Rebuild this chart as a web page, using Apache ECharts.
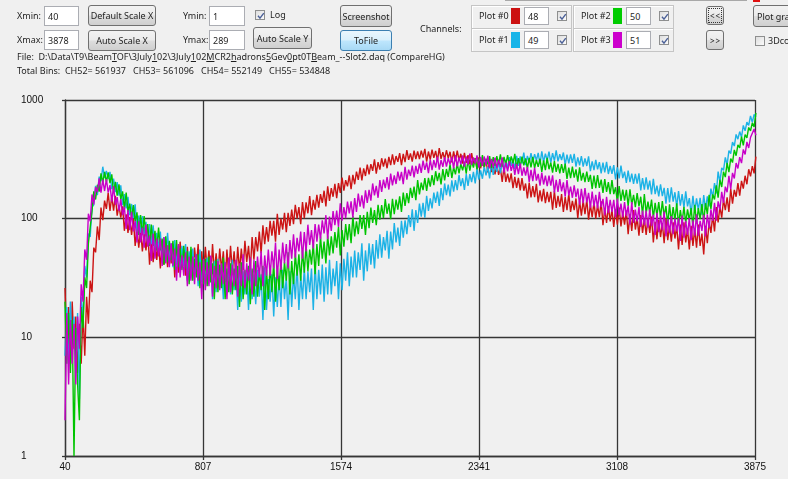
<!DOCTYPE html>
<html><head><meta charset="utf-8">
<script src="https://cdn.jsdelivr.net/npm/echarts@6.0.0/dist/echarts.min.js"></script>
<style>
html,body{margin:0;padding:0;}
body{width:788px;height:479px;overflow:hidden;background:#f0f0f0;position:relative;font-family:'Noto Sans','Open Sans',sans-serif;font-size:9px;color:#1e1e1e;}
#chart{position:absolute;left:0;top:0;width:788px;height:479px;}
.t{position:absolute;white-space:nowrap;line-height:10px;height:10px;}
.tb{position:absolute;box-sizing:border-box;background:#fff;border:1px solid #abadb3;padding-left:3px;white-space:nowrap;display:flex;align-items:center;}
.btn{position:absolute;box-sizing:border-box;border:1px solid #707070;border-radius:3px;background:linear-gradient(#f2f2f2 0%,#ebebeb 48%,#dddddd 52%,#cfcfcf 100%);display:flex;align-items:center;justify-content:center;white-space:nowrap;}
.btn.blue{border-color:#3c7fb1;background:linear-gradient(#eaf6fd 0%,#d9f0fc 48%,#bee6fd 52%,#a7d9f5 100%);}
.btn.arr{font-size:8px;letter-spacing:1px;padding-left:1px;}
.cb{position:absolute;width:10px;height:10px;box-sizing:border-box;border:1px solid #8e8f8f;background:linear-gradient(135deg,#dedede,#fbfbfb);}
.cb svg{position:absolute;left:0;top:0;}
.grp{position:absolute;box-sizing:border-box;border:1px solid #c5c5c5;box-shadow:inset 1px 1px 0 #ffffff;}
.sw{position:absolute;width:9px;height:16px;}
.focus{position:absolute;left:1px;top:1px;right:1px;bottom:1px;border:1px dotted #333;border-radius:1px;}
u{text-decoration:underline;}
</style>
</head><body>
<div id="chart"></div>

<div class="t" style="left:17px;top:11px">Xmin:</div>
<div class="tb" style="left:44px;top:6px;width:35px;height:20px">40</div>
<div class="btn" style="left:88px;top:5px;width:68px;height:21px">Default Scale X</div>
<div class="t" style="left:183px;top:11px">Ymin:</div>
<div class="tb" style="left:209px;top:6px;width:36px;height:20px">1</div>
<div class="cb" style="left:255px;top:10px"><svg width="10" height="10" viewBox="0 0 10 10"><path d="M2 4.8 L4 7.2 L7.8 2.2" stroke="#4a5f97" stroke-width="1.4" fill="none"/></svg></div>
<div class="t" style="left:270px;top:10px">Log</div>
<div class="btn" style="left:340px;top:5px;width:52px;height:22px">Screenshot</div>

<div class="t" style="left:17px;top:35px">Xmax:</div>
<div class="tb" style="left:44px;top:30px;width:35px;height:20px">3878</div>
<div class="btn" style="left:88px;top:30px;width:68px;height:21px">Auto Scale X</div>
<div class="t" style="left:183px;top:35px">Ymax:</div>
<div class="tb" style="left:209px;top:30px;width:36px;height:20px">289</div>
<div class="btn" style="left:253px;top:27px;width:59px;height:22px">Auto Scale Y</div>
<div class="btn blue" style="left:340px;top:30px;width:52px;height:21px">ToFile</div>

<div class="t" style="left:17px;top:52px">File:&nbsp; D:\Data\T9\Beam<u>T</u>OF\3July<u>1</u>02\3July<u>1</u>02<u>M</u>CR2<u>h</u>adrons<u>5</u>Gev<u>0</u>pt0T<u>B</u>eam_--Slot2.daq (CompareHG)</div>
<div class="t" style="left:17px;top:66px">Total Bins:&nbsp; CH52= 561937 &nbsp; CH53= 561096 &nbsp; CH54= 552149 &nbsp; CH55= 534848</div>

<div class="t" style="left:420px;top:24px">Channels:</div>
<div class="grp" style="left:471px;top:5px;width:101px;height:24px"></div>
<div class="grp" style="left:471px;top:28px;width:101px;height:24px"></div>
<div class="grp" style="left:573px;top:5px;width:101px;height:24px"></div>
<div class="grp" style="left:573px;top:28px;width:101px;height:24px"></div>
<div class="t" style="left:479px;top:11px">Plot #0</div>
<div class="sw" style="left:511px;top:8px;background:#cc1111"></div>
<div class="tb" style="left:524px;top:7px;width:25px;height:18px">48</div>
<div class="cb" style="left:557px;top:11px"><svg width="10" height="10" viewBox="0 0 10 10"><path d="M2 4.8 L4 7.2 L7.8 2.2" stroke="#4a5f97" stroke-width="1.4" fill="none"/></svg></div>
<div class="t" style="left:479px;top:35px">Plot #1</div>
<div class="sw" style="left:511px;top:32px;background:#18b4e8"></div>
<div class="tb" style="left:524px;top:31px;width:25px;height:18px">49</div>
<div class="cb" style="left:557px;top:35px"><svg width="10" height="10" viewBox="0 0 10 10"><path d="M2 4.8 L4 7.2 L7.8 2.2" stroke="#4a5f97" stroke-width="1.4" fill="none"/></svg></div>
<div class="t" style="left:581px;top:11px">Plot #2</div>
<div class="sw" style="left:613px;top:8px;background:#00cc00"></div>
<div class="tb" style="left:626px;top:7px;width:25px;height:18px">50</div>
<div class="cb" style="left:659px;top:11px"><svg width="10" height="10" viewBox="0 0 10 10"><path d="M2 4.8 L4 7.2 L7.8 2.2" stroke="#4a5f97" stroke-width="1.4" fill="none"/></svg></div>
<div class="t" style="left:581px;top:35px">Plot #3</div>
<div class="sw" style="left:613px;top:32px;background:#cc00cc"></div>
<div class="tb" style="left:626px;top:31px;width:25px;height:18px">51</div>
<div class="cb" style="left:659px;top:35px"><svg width="10" height="10" viewBox="0 0 10 10"><path d="M2 4.8 L4 7.2 L7.8 2.2" stroke="#4a5f97" stroke-width="1.4" fill="none"/></svg></div>

<div class="btn arr" style="left:706px;top:6px;width:18px;height:19px"><div class="focus"></div>&lt;&lt;</div>
<div class="btn arr" style="left:706px;top:30px;width:18px;height:20px">&gt;&gt;</div>
<div class="btn" style="left:753px;top:5px;width:60px;height:22px;justify-content:flex-start;padding-left:3px">Plot graph</div>
<div class="cb" style="left:755px;top:36px"></div>
<div class="t" style="left:768px;top:36px">3Dcomp</div>
<div style="position:absolute;left:505px;top:0;width:242px;height:1px;background:#a8a8a8"></div>
<div style="position:absolute;left:753px;top:0;width:7px;height:2px;background:#e01010"></div>

<script>
// Histogram bins: bin = BIN_START + i * BIN_STEP  (bins 40 .. 3880)
const BIN_START = 40;
const BIN_STEP = 10;
const X_TICKS = [40, 807, 1574, 2341, 3108, 3875];
const Y_TICKS = [1, 10, 100, 1000];
const SERIES_NAMES = ['Plot #0 (ch 48)', 'Plot #1 (ch 49)', 'Plot #2 (ch 50)', 'Plot #3 (ch 51)'];

// Plot #0, channel 48 (red) — counts per bin
const CH48 = [
 26,9,18,6,20,8,15,5,13,6,16,7,22,13,30,24,
 57,52,86,66,124,97,142,121,165,116,155,117,156,106,129,102,127,79,109,76,
 103,73,100,59,82,57,81,53,74,54,79,41,64,43,68,45,62,38,64,41,
 66,39,57,42,61,32,57,35,64,39,54,33,58,36,55,36,57,39,61,30,
 53,34,58,37,54,31,61,35,51,34,56,37,53,29,55,33,59,36,53,32,
 58,36,56,37,65,43,59,37,70,45,70,53,78,51,88,61,85,64,96,72,
 96,64,110,73,100,81,112,77,112,87,119,90,131,100,125,90,138,101,137,111,
 155,107,144,119,159,124,161,136,172,127,187,141,181,153,197,149,199,165,222,172,
 211,187,232,177,234,195,249,212,269,210,265,229,286,236,288,253,316,240,300,259,
 323,274,320,266,332,283,349,286,337,301,356,283,352,299,378,313,355,302,374,317,
 368,317,375,327,387,303,368,315,382,325,373,309,393,319,364,317,377,324,366,298,
 369,306,375,311,352,291,358,296,343,288,356,291,323,262,329,266,314,268,311,246,
 312,247,285,236,285,234,267,204,273,204,240,202,241,181,225,182,221,173,220,172,
 198,148,201,151,188,152,197,137,173,140,178,135,168,138,168,119,171,123,156,126,
 161,114,152,118,162,114,141,118,148,101,141,106,142,109,145,98,132,103,138,100,
 130,103,140,88,122,92,127,95,119,85,120,89,124,86,112,89,117,74,110,79,
 118,81,102,72,107,76,100,73,101,76,104,63,94,67,98,70,92,62,101,66,
 87,64,93,68,87,55,89,60,93,63,82,55,87,59,82,57,89,59,75,50,
 87,62,94,76,107,78,125,93,126,102,145,118,151,114,178,134,175,153,199,156,
 208,179,230,195,261,227,277,241,333
];
// Plot #1, channel 49 (cyan)
const CH49 = [
 7,18,6,20,8,15,5,16,3,22,14,40,32,75,70,125,
 131,189,158,226,207,274,221,253,217,248,177,218,167,203,156,191,130,161,122,153,
 107,133,101,132,77,106,76,105,74,94,61,90,61,88,56,76,56,78,43,70,
 45,76,47,62,39,66,41,59,38,59,40,61,30,53,33,56,34,50,27,55,
 29,44,28,47,30,43,21,44,24,46,26,39,21,43,24,39,23,45,25,36,
 17,39,20,36,23,37,17,40,21,34,19,37,22,34,14,39,17,31,20,34,
 15,32,18,33,18,37,21,32,14,36,18,34,21,41,17,33,21,38,21,36,
 24,38,17,42,21,37,23,41,20,39,23,45,23,38,27,44,21,42,25,46,
 30,52,27,48,32,54,32,52,37,62,30,54,36,62,41,61,38,66,46,74,
 47,70,54,79,46,78,55,92,63,84,59,96,69,97,74,107,85,120,79,118,
 92,134,104,136,102,156,116,148,122,166,136,169,128,181,143,198,158,194,154,210,
 169,211,174,234,188,219,175,237,189,237,203,248,198,264,213,255,217,274,232,274,
 218,299,234,281,248,301,242,300,258,313,264,330,279,320,262,338,278,335,292,360,
 282,338,297,356,298,350,310,358,288,370,300,353,310,367,296,357,307,377,304,349,
 312,361,284,347,292,348,295,352,275,328,281,336,274,322,278,335,251,304,256,313,
 260,299,241,297,245,301,238,278,239,283,214,270,218,280,220,249,200,254,203,240,
 196,239,197,241,173,220,176,223,176,209,160,217,161,190,154,195,155,182,134,181,
 137,184,139,167,126,171,129,161,124,170,127,149,109,156,114,148,118,150,108,158,
 119,154,127,179,152,199,163,249,204,268,255,329,284,374,353,442,409,513,468,542,
 487,610,549,650,610,735,647,757,721
];
// Plot #2, channel 50 (green)
const CH50 = [
 20,6,16,5,14,1,12,4,2,18,12,32,26,62,60,115,
 170,145,193,169,241,201,248,203,246,199,236,164,204,156,195,146,170,121,166,114,
 134,101,130,95,113,73,107,73,105,71,90,59,89,59,79,54,84,54,68,41,
 71,43,65,45,65,37,66,39,56,37,59,38,53,28,58,30,46,32,50,26,
 45,28,46,27,48,29,42,21,45,24,41,26,47,21,38,24,42,23,38,25,
 40,18,43,21,37,23,40,19,38,22,44,22,36,25,40,17,37,21,40,24,
 43,20,39,25,45,26,43,30,52,23,44,28,51,33,50,30,54,35,60,36,
 55,41,62,34,61,40,71,46,64,42,72,49,71,51,77,57,85,49,80,58,
 90,66,90,62,105,71,95,74,107,82,107,73,114,83,124,92,118,88,131,98,
 130,101,146,110,134,99,147,109,145,119,154,114,166,128,164,135,182,150,186,143,
 211,160,201,174,220,171,221,186,233,192,251,207,243,194,262,210,262,225,287,220,
 271,236,291,241,289,255,301,239,317,254,306,269,324,260,320,274,343,275,320,287,
 337,266,330,278,336,287,348,274,331,285,343,284,335,291,352,267,323,275,334,281,
 322,264,325,271,332,267,312,273,320,248,310,256,325,261,296,244,305,248,289,241,
 288,243,291,216,269,220,274,222,260,205,271,209,243,203,249,204,234,178,231,181,
 233,182,213,165,216,168,203,161,211,161,184,138,188,141,176,142,175,128,177,131,
 159,125,164,127,153,108,161,111,139,113,145,101,136,106,138,102,141,105,128,89,
 132,93,125,97,135,88,118,93,126,92,120,97,123,84,131,91,123,99,133,95,
 135,109,159,121,160,145,191,150,213,185,249,224,295,247,321,297,380,339,418,395,
 492,415,512,479,587,549,642,594,780
];
// Plot #3, channel 51 (magenta)
const CH51 = [
 2,16,4,14,6,13,4,15,8,28,20,55,45,110,95,160,
 132,185,167,219,166,213,171,215,166,192,139,188,131,152,116,146,107,126,82,118,
 80,114,78,96,63,95,63,84,57,89,58,72,44,75,46,68,48,68,40,70,
 42,60,39,62,40,56,30,61,32,49,33,52,27,48,30,48,28,50,30,43,
 21,46,25,43,27,49,22,40,26,44,25,42,28,43,21,47,24,41,27,45,
 22,42,27,50,26,42,30,47,23,45,27,48,32,53,27,49,33,55,33,53,
 38,63,31,55,37,63,42,61,38,66,46,74,47,69,53,78,46,77,53,89,
 60,80,56,90,64,89,67,97,75,107,67,104,79,116,88,117,85,135,96,125,
 101,139,111,140,102,149,114,163,126,157,122,173,136,175,142,198,157,189,150,211,
 168,213,181,224,176,240,191,232,196,249,209,248,195,273,213,259,229,280,223,279,
 239,291,243,308,258,298,242,314,256,311,269,334,259,312,273,330,274,324,286,332,
 265,344,276,328,287,342,274,334,285,354,284,328,292,341,269,331,278,334,283,340,
 265,319,272,327,266,314,271,328,244,297,250,305,253,291,234,289,237,292,230,270,
 231,273,204,258,207,268,209,238,190,244,194,231,188,230,190,232,166,212,168,215,
 170,202,153,211,157,186,150,191,152,179,131,178,135,181,137,165,124,169,127,159,
 122,168,125,147,107,153,112,144,114,144,103,148,107,134,103,138,105,129,89,138,
 92,119,95,125,85,117,88,117,84,120,87,108,73,112,77,106,80,115,71,99,
 76,105,74,100,78,101,65,106,69,96,73,101,66,97,72,109,72,96,79,108,
 71,109,83,120,96,136,96,140,119,168,136,186,167,230,177,243,218,294,265,330,
 294,383,348,444,394,483,468,569,505
];

const SERIES_DATA = [CH48, CH49, CH50, CH51];
const COLORS = ['#cc1414', '#1cb2e6', '#00c400', '#c800c8'];
const GRID_COLOR = '#363636';

const chart = echarts.init(document.getElementById('chart'), null, {renderer: 'canvas'});
const xOrigin = X_TICKS[0];
const series = SERIES_DATA.map((arr, s) => ({
  name: SERIES_NAMES[s],
  type: 'line',
  data: arr.map((v, i) => [BIN_START + i * BIN_STEP - xOrigin, v]),
  showSymbol: false,
  symbol: 'none',
  lineStyle: {color: COLORS[s], width: 1.4},
  itemStyle: {color: COLORS[s]},
  clip: true,
  animation: false,
  z: 2 + s
}));

chart.setOption({
  backgroundColor: 'transparent',
  animation: false,
  grid: {left: 65, right: 33, top: 100, bottom: 23, containLabel: false, outerBoundsMode: 'none'},
  xAxis: {
    type: 'value',
    min: 0,
    max: X_TICKS[X_TICKS.length - 1] - xOrigin,
    interval: X_TICKS[1] - X_TICKS[0],
    axisLine: {show: true, onZero: false, lineStyle: {color: GRID_COLOR, width: 1.3}},
    axisTick: {show: true, inside: false, length: 4, lineStyle: {color: GRID_COLOR, width: 1.3}},
    splitLine: {show: true, lineStyle: {color: GRID_COLOR, width: 1.3}},
    axisLabel: {
      show: true, margin: 6, color: '#111', fontSize: 10,
      fontFamily: "'Liberation Sans', Arial, sans-serif",
      showMinLabel: true, showMaxLabel: true,
      formatter: v => String(Math.round(v + xOrigin))
    }
  },
  yAxis: {
    type: 'log',
    logBase: 10,
    min: Y_TICKS[0],
    max: Y_TICKS[Y_TICKS.length - 1],
    axisLine: {show: true, lineStyle: {color: GRID_COLOR, width: 1.3}},
    axisTick: {show: true, inside: false, length: 3, lineStyle: {color: GRID_COLOR, width: 1.3}},
    minorTick: {show: false},
    minorSplitLine: {show: false},
    splitLine: {show: true, lineStyle: {color: GRID_COLOR, width: 1.3}},
    axisLabel: {
      show: true, align: 'left', margin: 44, color: '#111', fontSize: 10,
      fontFamily: "'Liberation Sans', Arial, sans-serif",
      showMinLabel: true, showMaxLabel: true,
      formatter: v => String(Math.round(v))
    }
  },
  series: series
});
</script>
</body></html>
